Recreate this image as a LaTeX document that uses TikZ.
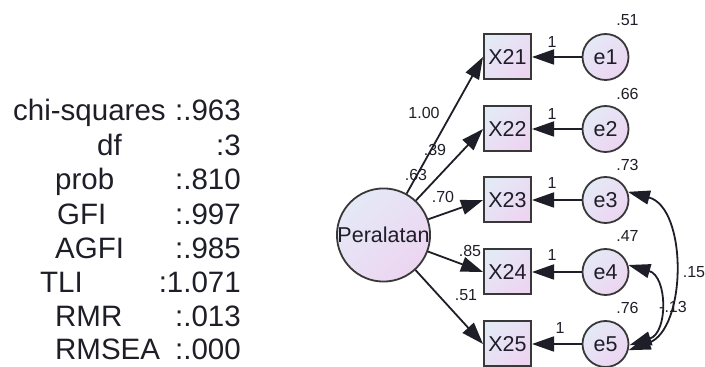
\documentclass[tikz,border=0pt]{standalone}
\usepackage{fontspec}
\setmainfont{Liberation Sans}
\usetikzlibrary{arrows.meta}
\definecolor{lavtop}{HTML}{E4E9F6}
\definecolor{lavbot}{HTML}{EDD5F1}
\definecolor{ink}{HTML}{1E1E28}
\definecolor{edge}{HTML}{383838}
\begin{document}
\begin{tikzpicture}[x=1pt,y=1pt,
  obs/.style={draw=edge, line width=2pt, minimum width=47pt, minimum height=45pt,
    inner sep=0pt, top color=lavtop, bottom color=lavbot, shading angle=45,
    text=ink, font=\fontsize{21.5}{24}\selectfont},
  latent/.style={circle, draw=edge, line width=1.8pt, minimum size=92pt, inner sep=0pt,
    top color=lavtop, bottom color=lavbot, shading angle=45,
    text=ink, font=\fontsize{21.5}{24}\selectfont},
  err/.style={circle, draw=edge, line width=1.8pt, minimum size=46pt, inner sep=0pt,
    top color=lavtop, bottom color=lavbot, shading angle=45,
    text=ink, font=\fontsize{21.5}{24}\selectfont},
  path/.style={draw=ink, line width=1.8pt, -{Triangle[length=22pt,width=15pt]}},
  cov/.style={draw=ink, line width=1.8pt,
    {Triangle[length=22pt,width=14pt]}-{Triangle[length=22pt,width=14pt]}},
  est/.style={text=ink, inner sep=0pt, font=\fontsize{16}{18}\selectfont},
  fitlab/.style={text=ink, inner sep=0pt, anchor=base west, font=\fontsize{29.5}{34}\selectfont},
  fitval/.style={text=ink, inner sep=0pt, anchor=base east, font=\fontsize{29.5}{34}\selectfont}
]
\useasboundingbox (0,0) rectangle (705,367);

% goodness-of-fit summary
\node[fitlab] (l1) at (13,246) {chi-squares};
\node[fitlab] (l2) at (97,211) {df};
\node[fitlab] (l3) at (55,177) {prob};
\node[fitlab] (l4) at (57,142) {GFI};
\node[fitlab] (l5) at (55,108) {AGFI};
\node[fitlab] (l6) at (40,74) {TLI};
\node[fitlab] (l7) at (55,40) {RMR};
\node[fitlab] (l8) at (55,7) {RMSEA};
\node[fitval] (v1) at (241,246) {:.963};
\node[fitval] (v2) at (241,211) {:3};
\node[fitval] (v3) at (241,177) {:.810};
\node[fitval] (v4) at (241,142) {:.997};
\node[fitval] (v5) at (241,108) {:.985};
\node[fitval] (v6) at (241,74) {:1.071};
\node[fitval] (v7) at (241,40) {:.013};
\node[fitval] (v8) at (241,7) {:.000};

% latent factor
\node[latent] (P) at (383.5,132) {Peralatan};

% indicators
\node[obs] (X21) at (507.5,310) {X21};
\node[obs] (X22) at (507.5,238) {X22};
\node[obs] (X23) at (507.5,167) {X23};
\node[obs] (X24) at (507.5,95) {X24};
\node[obs] (X25) at (507.5,23) {X25};

% error terms
\node[err] (e1) at (605.5,310) {e1};
\node[err] (e2) at (605.5,238) {e2};
\node[err] (e3) at (605.5,167) {e3};
\node[err] (e4) at (605.5,95) {e4};
\node[err] (e5) at (605.5,23) {e5};

% loadings
\draw[path] (P) -- (X21.west);
\draw[path] (P) -- (X22.west);
\draw[path] (P) -- (X23.west);
\draw[path] (P) -- (X24.west);
\draw[path] (P) -- (X25.west);

% error paths
\draw[path] (e1) -- (X21);
\draw[path] (e2) -- (X22);
\draw[path] (e3) -- (X23);
\draw[path] (e4) -- (X24);
\draw[path] (e5) -- (X25);

% error covariances
\draw[cov] (e3.20) to[out=-15,in=20,looseness=1.0] (e5.-15);
\draw[cov] (e4.17) to[out=-16,in=18,looseness=1.3] (e5.-3);

% estimates
\node[est] (k1) at (424,254) {1.00};
\node[est] (k2) at (435,217) {.39};
\node[est] (k3) at (416,192) {.63};
\node[est] (k4) at (443,170) {.70};
\node[est] (k5) at (470,116) {.85};
\node[est] (k6) at (466,72) {.51};

\node[est] (f1) at (552,325) {1};
\node[est] (f2) at (552,253) {1};
\node[est] (f3) at (552,184) {1};
\node[est] (f4) at (552,112) {1};
\node[est] (f5) at (560,39) {1};

\node[est] (r1) at (627.5,347) {.51};
\node[est] (r2) at (627.5,273) {.66};
\node[est] (r3) at (627.5,202) {.73};
\node[est] (r4) at (627.5,131) {.47};
\node[est] (r5) at (627.5,59.5) {.76};

\node[est] (c1) at (694,95) {.15};
\node[est] (c2) at (673,60) {-.13};
\end{tikzpicture}
\end{document}
